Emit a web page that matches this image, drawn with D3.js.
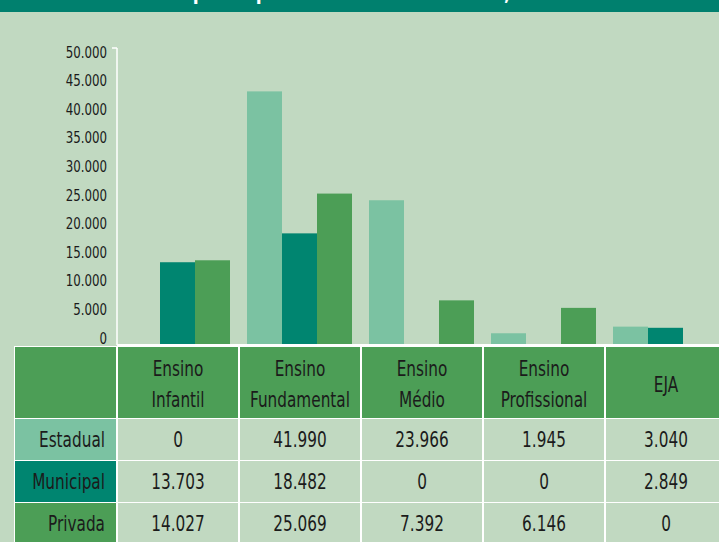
<!DOCTYPE html>
<html>
<head>
<meta charset="utf-8">
<script src="https://cdn.jsdelivr.net/npm/d3@7"></script>
<style>
  body { margin: 0; background: #c1d9c1; }
  text { font-family: "Liberation Sans Narrow", "DejaVu Sans Condensed", "Roboto Condensed", sans-serif; }
</style>
</head>
<body>
<script>
// Width and height
var w = 719;
var h = 542;

/***Data***/
var categories = ["Ensino Infantil", "Ensino Fundamental", "Ensino Médio", "Ensino Profissional", "EJA"];
var headerLines = [["Ensino", "Infantil"], ["Ensino", "Fundamental"], ["Ensino", "Médio"], ["Ensino", "Profissional"], ["EJA"]];
var series = ["Estadual", "Municipal", "Privada"];
var estadual = [0, 41990, 23966, 1945, 3040];
var municipal = [13703, 18482, 0, 0, 2849];
var privada = [14027, 25069, 7392, 6146, 0];
var yTicks = [0, 5000, 10000, 15000, 20000, 25000, 30000, 35000, 40000, 45000, 50000];
var title = "Matrículas por dependência administrativa, 2014";

var values = { "Estadual": estadual, "Municipal": municipal, "Privada": privada };
var colors = { "Estadual": "#7bc2a2", "Municipal": "#008570", "Privada": "#4c9e56" };
var bg = "#c1d9c1";
var ink = "#1b1b1b";
var squeeze = 0.81; // condensed look

var ptBR = d3.formatLocale({ decimal: ",", thousands: ".", grouping: [3], currency: ["R$", ""] });
var fmt = ptBR.format(",.0f");

/***Draw SVG***/
var svg = d3.select("body")
            .append("svg")
            .attr("width", w)
            .attr("height", h);

svg.append("rect")
   .attr("width", w)
   .attr("height", h)
   .attr("fill", bg);

/***Title bar (cut off at the top)***/
svg.append("rect")
   .attr("width", w)
   .attr("height", 12)
   .attr("fill", "#00806e");
svg.append("text")
   .attr("transform", "translate(85,-1) scale(0.8,1)")
   .attr("fill", "#fff")
   .attr("font-size", 24)
   .attr("font-weight", "bold")
   .text(title);

/***Scales***/
var x0 = d3.scaleBand()
           .domain(categories)
           .range([117, 117 + 122 * categories.length]);
var x1 = d3.scaleBand()
           .domain(series)
           .range([8, 113]);
var y = d3.scaleLinear()
          .domain([0, 50000])
          .range([345, 43]);
// labels sit a little tighter than the bars
var yLab = d3.scaleLinear()
             .domain([0, 50000])
             .range([338, 52]);
var axisTop = 48;

/***Bars***/
var groups = svg.selectAll(".grp")
                .data(categories)
                .enter()
                .append("g")
                .attr("class", "grp")
                .attr("transform", function(d) { return "translate(" + x0(d) + ",0)"; });

groups.selectAll("rect")
      .data(function(d, i) {
        return series.map(function(s) { return { s: s, v: values[s][i] }; });
      })
      .enter()
      .append("rect")
      .attr("x", function(d) { return x1(d.s); })
      .attr("width", x1.bandwidth())
      .attr("y", function(d) { return y(d.v); })
      .attr("height", function(d) { return y(0) - y(d.v); })
      .attr("fill", function(d) { return colors[d.s]; });

/***Axes***/
svg.append("line")
   .attr("x1", 117).attr("x2", 117)
   .attr("y1", axisTop).attr("y2", y(0))
   .attr("stroke", "#fff").attr("stroke-width", 1.5);
svg.append("line")
   .attr("x1", 112).attr("x2", 117)
   .attr("y1", axisTop).attr("y2", axisTop)
   .attr("stroke", "#fff").attr("stroke-width", 1.5);
svg.append("line")
   .attr("x1", 117).attr("x2", w)
   .attr("y1", y(0)).attr("y2", y(0))
   .attr("stroke", "#fff").attr("stroke-width", 2);

var yAxis = d3.axisLeft()
              .scale(yLab)
              .tickValues(yTicks)
              .tickSize(0)
              .tickPadding(0)
              .tickFormat(fmt);
var ya = svg.append("g")
            .attr("class", "yaxis")
            .attr("transform", "translate(107,0)")
            .call(yAxis);
ya.select(".domain").remove();
ya.selectAll("text")
  .attr("x", 0)
  .attr("transform", "scale(0.82,1)")
  .attr("fill", ink)
  .attr("font-size", 16)
  .attr("font-family", null);

/***Table***/
var tableTop = 347;
var headH = 71;
var rowTops = [419, 461, 503];
var rowH = 41;

svg.append("rect")
   .attr("x", 14).attr("y", tableTop - 1)
   .attr("width", w - 14).attr("height", h - tableTop + 1)
   .attr("fill", "#fff");

// header row
svg.append("rect")
   .attr("x", 15).attr("y", tableTop)
   .attr("width", 101).attr("height", headH)
   .attr("fill", colors["Privada"]);
var head = svg.selectAll(".head")
              .data(categories)
              .enter()
              .append("g")
              .attr("class", "head");
head.append("rect")
    .attr("x", function(d) { return x0(d) + 1; })
    .attr("y", tableTop)
    .attr("width", x0.bandwidth() - 2)
    .attr("height", headH)
    .attr("fill", colors["Privada"]);
head.selectAll("text")
    .data(function(d, i) {
      var lines = headerLines[i];
      return lines.map(function(l, j) { return { l: l, j: j, n: lines.length, c: d }; });
    })
    .enter()
    .append("text")
    .attr("transform", function(d) {
      var cx = x0(d.c) + x0.bandwidth() / 2;
      var cy = tableTop + headH / 2 + 9 + (d.j - (d.n - 1) / 2) * 31;
      return "translate(" + cx + "," + cy + ") scale(" + squeeze + ",1)";
    })
    .attr("text-anchor", "middle")
    .attr("fill", ink)
    .attr("font-size", 21)
    .text(function(d) { return d.l; });

// body rows
var rows = svg.selectAll(".row")
              .data(series)
              .enter()
              .append("g")
              .attr("class", "row");
rows.append("rect")
    .attr("x", 15)
    .attr("y", function(d, i) { return rowTops[i]; })
    .attr("width", 101)
    .attr("height", rowH)
    .attr("fill", function(d) { return colors[d]; });
rows.append("text")
    .attr("transform", function(d, i) {
      return "translate(105," + (rowTops[i] + rowH / 2 + 7) + ") scale(" + squeeze + ",1)";
    })
    .attr("text-anchor", "end")
    .attr("fill", ink)
    .attr("font-size", 21)
    .text(function(d) { return d; });

rows.selectAll(".cell")
    .data(function(s, i) {
      return categories.map(function(c, k) { return { c: c, v: values[s][k], r: i }; });
    })
    .enter()
    .append("rect")
    .attr("class", "cell")
    .attr("x", function(d) { return x0(d.c) + 1; })
    .attr("y", function(d) { return rowTops[d.r]; })
    .attr("width", x0.bandwidth() - 2)
    .attr("height", rowH)
    .attr("fill", bg);

rows.selectAll(".val")
    .data(function(s, i) {
      return categories.map(function(c, k) { return { c: c, v: values[s][k], r: i }; });
    })
    .enter()
    .append("text")
    .attr("class", "val")
    .attr("transform", function(d) {
      var cx = x0(d.c) + x0.bandwidth() / 2;
      return "translate(" + cx + "," + (rowTops[d.r] + rowH / 2 + 7) + ") scale(" + squeeze + ",1)";
    })
    .attr("text-anchor", "middle")
    .attr("fill", ink)
    .attr("font-size", 21)
    .text(function(d) { return fmt(d.v); });
</script>
</body>
</html>
